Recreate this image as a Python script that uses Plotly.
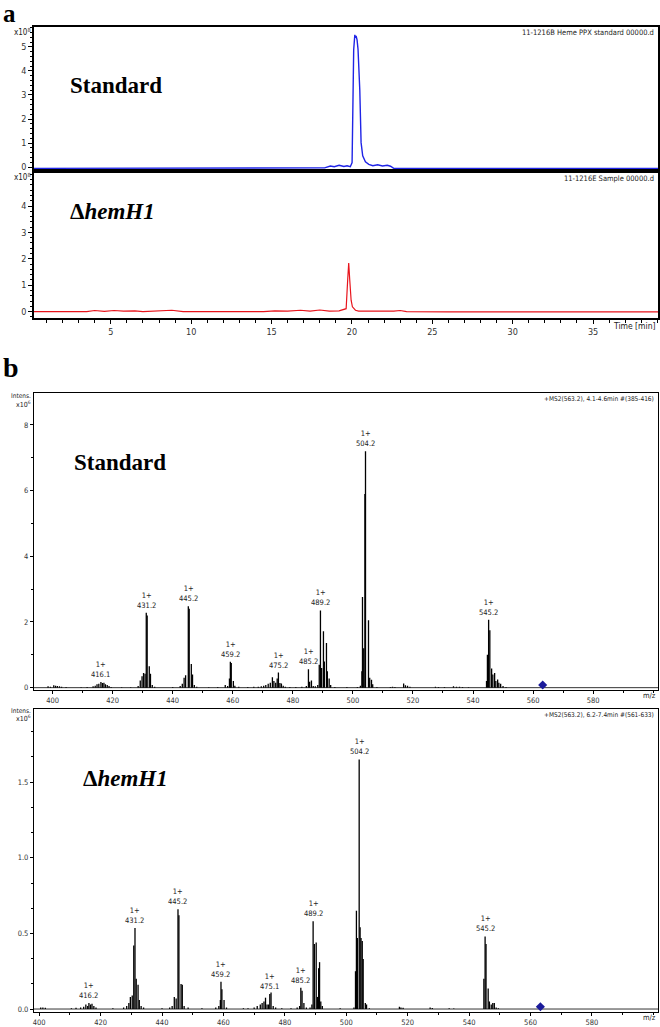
import plotly.graph_objects as go

# ---------------- data ----------------
# Panel a: chromatograms (time in min, intensity in 1e8)
std_t = [0.22, 3, 6, 9, 12, 15, 17.5, 18.3, 18.66, 18.9, 19.2, 19.5, 19.7, 19.9, 20.01, 20.07, 20.11, 20.18,
         20.22, 20.26, 20.32, 20.38, 20.44, 20.49, 20.57, 20.67, 20.84, 21.05, 21.3, 21.6, 21.9, 22.2, 22.4,
         22.6, 25, 30, 35, 39.04]
std_i = [-0.05, -0.05, -0.05, -0.05, -0.05, -0.05, -0.05, -0.03, 0.05, 0.02, 0.08, 0.03, 0.06, 0.02, 0.19, 3.22,
         4.88, 5.5, 5.38, 5.45, 5.29, 4.9, 4.2, 3.2, 1.02, 0.47, 0.22, 0.12, 0.06, 0.1, 0.05, 0.08, 0.04,
         -0.05, -0.05, -0.05, -0.05, -0.05]

smp_t = [0.22, 2.0, 3.5, 4.0, 4.6, 5.2, 5.8, 6.5, 7.0, 8.8, 9.1, 9.5, 12, 14.5, 15.2, 16.0, 16.8, 17.4, 18.0,
         18.6, 19.2, 19.64, 19.74, 19.8, 19.86, 19.9, 19.95, 20.03, 20.22, 20.42, 21.5, 22.6, 23.0, 23.4,
         26, 30, 35, 39.04]
smp_i = [0.0, 0.0, 0.0, 0.04, 0.01, 0.04, 0.02, 0.03, 0.0, 0.05, 0.02, 0.0, 0.0, 0.0, 0.03, 0.02, 0.05, 0.02,
         0.06, 0.02, 0.03, 0.11, 1.24, 1.84, 1.24, 0.74, 0.43, 0.18, 0.05, 0.02, 0.01, 0.02, 0.04, 0.0,
         -0.01, -0.01, -0.01, -0.01]

# Panel b: MS2 spectra (m/z, intensity in 1e6)
std_mz = [398.5, 399.3, 400.4, 401.0, 401.6, 402.3, 403.0, 404.5, 409.5, 411.5, 413.5, 414.2, 414.8, 415.4,
          416.1, 416.6, 417.1, 417.6, 418.2, 418.8, 419.5, 423.0, 426.0, 428.5, 429.2, 429.8, 430.3, 430.8,
          431.2, 431.5, 432.2, 432.6, 433.2, 434.0, 440.0, 442.5, 443.2, 443.8, 444.3, 445.2, 445.5, 446.2,
          446.6, 447.2, 448.0, 452.0, 455.0, 457.5, 458.3, 458.9, 459.2, 459.5, 460.2, 460.7, 462.0, 465.0,
          467.0, 468.5, 469.5, 470.3, 471.0, 471.8, 472.5, 473.2, 473.7, 474.3, 474.8, 475.2, 475.7, 476.2,
          476.8, 477.5, 479.0, 481.0, 483.0, 484.5, 485.2, 485.6, 486.2, 486.8, 487.5, 488.3, 488.8, 489.2,
          489.6, 490.2, 490.5, 491.2, 491.5, 492.1, 492.6, 494.0, 498.0, 501.5, 502.5, 503.0, 503.2, 503.6,
          504.0, 504.2, 505.2, 505.6, 506.2, 506.6, 508.0, 512.5, 513.2, 514.0, 516.9, 517.5, 518.2, 519.0,
          527.5, 528.5, 530.5, 533.5, 534.5, 535.5, 536.5, 538.5, 544.5, 544.8, 545.2, 545.6, 546.2, 546.6,
          547.2, 547.6, 548.2, 548.6, 549.2, 550.0, 551.0]
std_int = [0.04, 0.03, 0.07, 0.06, 0.05, 0.04, 0.03, 0.02, 0.01, 0.02, 0.04, 0.06, 0.1, 0.12,
           0.17, 0.14, 0.15, 0.1, 0.08, 0.05, 0.02, 0.01, 0.01, 0.05, 0.22, 0.35, 0.45, 0.42,
           2.28, 2.2, 0.65, 0.42, 0.08, 0.03, 0.02, 0.05, 0.12, 0.3, 0.38, 2.48, 2.4, 0.72,
           0.4, 0.08, 0.03, 0.01, 0.02, 0.08, 0.05, 0.28, 0.79, 0.75, 0.2, 0.06, 0.03, 0.02,
           0.03, 0.03, 0.04, 0.06, 0.08, 0.12, 0.15, 0.32, 0.2, 0.15, 0.28, 0.46, 0.14, 0.13,
           0.06, 0.03, 0.02, 0.02, 0.03, 0.05, 0.56, 0.18, 0.22, 0.05, 0.04, 0.08, 0.7, 2.35,
           0.6, 1.72, 0.8, 1.36, 0.5, 0.28, 0.08, 0.02, 0.02, 0.02, 0.06, 0.5, 2.76, 1.2,
           5.9, 7.2, 2.05, 0.3, 0.24, 0.1, 0.02, 0.02, 0.03, 0.02, 0.13, 0.07, 0.06, 0.03,
           0.03, 0.02, 0.02, 0.04, 0.03, 0.03, 0.02, 0.01, 0.2, 1.0, 2.07, 1.75, 0.58, 0.4,
           0.45, 0.2, 0.25, 0.15, 0.12, 0.05, 0.02]
std_labels = [416.1, 431.2, 445.2, 459.2, 475.2, 485.2, 489.2, 504.2, 545.2]

mut_mz = [400.5, 401.2, 402.0, 410.5, 412.0, 413.5, 414.5, 415.2, 415.8, 416.2, 416.7, 417.2, 417.8, 418.5,
          424.0, 427.5, 428.5, 429.2, 429.7, 430.3, 430.8, 431.2, 431.6, 432.2, 432.6, 433.2, 434.0, 440.0,
          442.5, 443.3, 444.0, 444.6, 445.2, 445.5, 446.2, 446.6, 447.2, 448.5, 453.0, 457.5, 458.5, 459.0,
          459.2, 459.5, 460.2, 461.0, 466.5, 468.0, 470.0, 471.0, 472.0, 472.6, 473.2, 473.7, 474.2, 474.7,
          475.1, 475.5, 476.2, 477.0, 479.0, 482.0, 484.0, 484.8, 485.2, 485.6, 486.2, 487.0, 488.2, 488.8,
          489.2, 489.6, 490.2, 490.6, 491.0, 491.3, 491.7, 492.2, 498.0, 502.5, 503.0, 503.3, 503.6, 504.2,
          504.5, 504.8, 505.2, 505.5, 506.2, 506.6, 507.5, 517.3, 517.8, 518.5, 527.3, 528.0, 533.5, 535.0,
          544.8, 545.2, 545.5, 546.2, 546.6, 547.2, 547.7, 548.2, 548.8, 549.5]
mut_int = [0.01, 0.01, 0.008, 0.005, 0.008, 0.01, 0.015, 0.03, 0.02, 0.04, 0.03, 0.035, 0.02, 0.01,
           0.005, 0.01, 0.02, 0.04, 0.08, 0.09, 0.42, 0.535, 0.2, 0.16, 0.06, 0.02, 0.01, 0.005,
           0.01, 0.02, 0.08, 0.07, 0.66, 0.62, 0.165, 0.16, 0.02, 0.01, 0.005, 0.01, 0.02, 0.06,
           0.18, 0.13, 0.06, 0.01, 0.005, 0.005, 0.01, 0.02, 0.03, 0.04, 0.05, 0.075, 0.03, 0.03,
           0.10, 0.11, 0.02, 0.01, 0.005, 0.005, 0.01, 0.02, 0.14, 0.12, 0.04, 0.01, 0.01, 0.03,
           0.58, 0.43, 0.44, 0.08, 0.27, 0.31, 0.05, 0.02, 0.005, 0.01, 0.25, 0.65, 0.47, 1.65,
           0.54, 0.47, 0.45, 0.33, 0.04, 0.03, 0.005, 0.015, 0.01, 0.008, 0.01, 0.006, 0.005, 0.004,
           0.2, 0.48, 0.43, 0.136, 0.05, 0.03, 0.04, 0.04, 0.01, 0.005]
mut_labels = [416.2, 431.2, 445.2, 459.2, 475.1, 485.2, 489.2, 504.2, 545.2]

precursor_mz = 563.2
std_prec_int = 0.08
mut_prec_int = 0.015

# ---------------- figure ----------------
W, H = 660, 1027
fig = go.Figure()


def px(x):
    return x / W


def py(y):
    return 1 - y / H


NARROW = "Liberation Sans Narrow, Arial Narrow, DejaVu Sans Condensed, sans-serif"
SERIF = "Liberation Serif, Times New Roman, serif"

fig.add_trace(go.Scatter(x=std_t, y=std_i, mode="lines", line=dict(color="#1f24e6", width=1.4),
                         xaxis="x", yaxis="y", showlegend=False))
fig.add_trace(go.Scatter(x=smp_t, y=smp_i, mode="lines", line=dict(color="#e8141c", width=1.2),
                         xaxis="x2", yaxis="y2", showlegend=False))


def sticks(mz, inten):
    xs, ys = [], []
    for m, v in zip(mz, inten):
        xs += [m, m, None]
        ys += [0, v, None]
    return xs, ys


for mz, inten, xa, ya, prec in [(std_mz, std_int, "x3", "y3", std_prec_int),
                                 (mut_mz, mut_int, "x4", "y4", mut_prec_int)]:
    xs, ys = sticks(mz, inten)
    fig.add_trace(go.Scatter(x=xs, y=ys, mode="lines", line=dict(color="black", width=1.3),
                             xaxis=xa, yaxis=ya, showlegend=False))
    fig.add_trace(go.Scatter(x=[min(mz) - 5, max(mz) + 60], y=[0, 0], mode="lines",
                             line=dict(color="black", width=0.8), xaxis=xa, yaxis=ya, showlegend=False))
    fig.add_trace(go.Scatter(x=[precursor_mz], y=[prec], mode="markers",
                             marker=dict(symbol="diamond", color="#1a1a9a", size=7),
                             xaxis=xa, yaxis=ya, showlegend=False))

annotations = []
for labels, mz, inten, xa, ya in [(std_labels, std_mz, std_int, "x3", "y3"),
                                   (mut_labels, mut_mz, mut_int, "x4", "y4")]:
    for lab in labels:
        h = max(v for m, v in zip(mz, inten) if abs(m - lab) <= 0.35)
        annotations.append(dict(x=lab, y=h, xref=xa, yref=ya, text="1+<br>%.1f" % lab,
                                showarrow=False, yanchor="bottom", xanchor="center", yshift=1,
                                font=dict(family=NARROW, size=7.5, color="#222")))

xdom = [px(33), px(658)]
ax_common = dict(showline=True, mirror=True, linecolor="black", showgrid=False, zeroline=False)

fig.update_layout(
    width=W, height=H, margin=dict(l=0, r=0, t=0, b=0),
    paper_bgcolor="white", plot_bgcolor="white",
    xaxis=dict(domain=xdom, range=[0.22, 39.04], anchor="y", showticklabels=False, ticks="",
               linewidth=1.8, **ax_common),
    yaxis=dict(domain=[py(172), py(27)], range=[-0.165, 5.83], anchor="x", dtick=1, tick0=0,
               ticks="outside", ticklen=4, tickcolor="black", linewidth=1.6,
               minor=dict(dtick=0.2, ticks="outside", ticklen=2, tickcolor="black"),
               tickfont=dict(family=NARROW, size=9, color="#333"), **ax_common),
    xaxis2=dict(domain=xdom, range=[0.22, 39.04], anchor="y2", dtick=5, tick0=0, ticks="outside",
                ticklen=4, tickcolor="black", linewidth=1.6,
                minor=dict(dtick=1, ticks="outside", ticklen=3, tickcolor="black"),
                tickfont=dict(family=NARROW, size=9, color="#333"), **ax_common),
    yaxis2=dict(domain=[py(320), py(172)], range=[-0.26, 5.32], anchor="x2", dtick=1, tick0=0,
                ticks="outside", ticklen=4, tickcolor="black", linewidth=1.6,
                minor=dict(dtick=0.2, ticks="outside", ticklen=2, tickcolor="black"),
                tickvals=[0, 1, 2, 3, 4],
                tickfont=dict(family=NARROW, size=9, color="#333"), **ax_common),
    xaxis3=dict(domain=xdom, range=[393.8, 601.6], anchor="y3", ticks="outside",
                ticklen=3, tickcolor="black", linewidth=1.1,
                tickvals=[400, 420, 440, 460, 480, 500, 520, 540, 560, 580],
                minor=dict(dtick=10, tick0=400, ticks="outside", ticklen=2, tickcolor="black"),
                tickfont=dict(family=NARROW, size=7.5, color="#333"), **ax_common),
    yaxis3=dict(domain=[py(693), py(395)], range=[-0.06, 8.97], anchor="x3", tickvals=[0, 2, 4, 6, 8],
                ticks="outside", ticklen=3, tickcolor="black", linewidth=1.1,
                minor=dict(dtick=1, ticks="outside", ticklen=2, tickcolor="black"),
                tickfont=dict(family=NARROW, size=7.5, color="#333"), **ax_common),
    xaxis4=dict(domain=xdom, range=[398.3, 601.5], anchor="y4",
                tickvals=[400, 420, 440, 460, 480, 500, 520, 540, 560, 580],
                ticks="outside", ticklen=3, tickcolor="black", linewidth=1.1,
                minor=dict(dtick=10, tick0=400, ticks="outside", ticklen=2, tickcolor="black"),
                tickfont=dict(family=NARROW, size=7.5, color="#333"), **ax_common),
    yaxis4=dict(domain=[py(1017), py(712)], range=[-0.02, 1.987], anchor="x4", tickvals=[0, 0.5, 1.0, 1.5],
                ticktext=["0.0", "0.5", "1.0", "1.5"],
                ticks="outside", ticklen=3, tickcolor="black", linewidth=1.1,
                minor=dict(dtick=0.5 / 3, ticks="outside", ticklen=2, tickcolor="black"),
                tickfont=dict(family=NARROW, size=7.5, color="#333"), **ax_common),
)


def ptext(x, y, text, size, family=NARROW, xanchor="left", yanchor="middle", color="#222"):
    annotations.append(dict(x=px(x), y=py(y), xref="paper", yref="paper", text=text, showarrow=False,
                            xanchor=xanchor, yanchor=yanchor, borderpad=0,
                            font=dict(family=family, size=size, color=color)))


# panel letters
ptext(1, 14, "<b>a</b>", 25, SERIF, color="black")
ptext(1, 369, "<b>b</b>", 28, SERIF, color="black")
# sample names
ptext(68, 86, "<b>Standard</b>", 23, SERIF, color="black")
ptext(68, 213, "<b>Δ<i>hemH1</i></b>", 23, SERIF, color="black")
ptext(72, 465, "<b>Standard</b>", 23, SERIF, color="black")
ptext(81, 782, "<b>Δ<i>hemH1</i></b>", 23, SERIF, color="black")
# exponent labels
ptext(31, 32, "x10<sup>8</sup>", 8, xanchor="right")
ptext(31, 178, "x10<sup>8</sup>", 8, xanchor="right")
ptext(31, 398, "Intens.", 6.5, xanchor="right")
ptext(31, 406, "x10<sup>6</sup>", 7, xanchor="right")
ptext(31, 714, "Intens.", 6.5, xanchor="right")
ptext(31, 722, "x10<sup>6</sup>", 7, xanchor="right")
# file / scan descriptors
ptext(655, 33, "11-1216B Heme PPX standard 00000.d", 7.5, xanchor="right")
ptext(655, 179, "11-1216E Sample 00000.d", 7.5, xanchor="right")
ptext(655, 401, "+MS2(563.2), 4.1-4.6min #(385-416)", 6.5, xanchor="right")
ptext(655, 718, "+MS2(563.2), 6.2-7.4min #(561-633)", 6.5, xanchor="right")
# axis titles
ptext(657, 328, "Time [min]", 8.5, xanchor="right")
ptext(657, 699, "m/z", 7.5, xanchor="right")
ptext(657, 1022, "m/z", 7.5, xanchor="right")

fig.update_layout(annotations=annotations)
fig.write_html("out.html", config={"displayModeBar": False},
               post_script="document.body.style.margin='0px';document.body.style.overflow='hidden';")
